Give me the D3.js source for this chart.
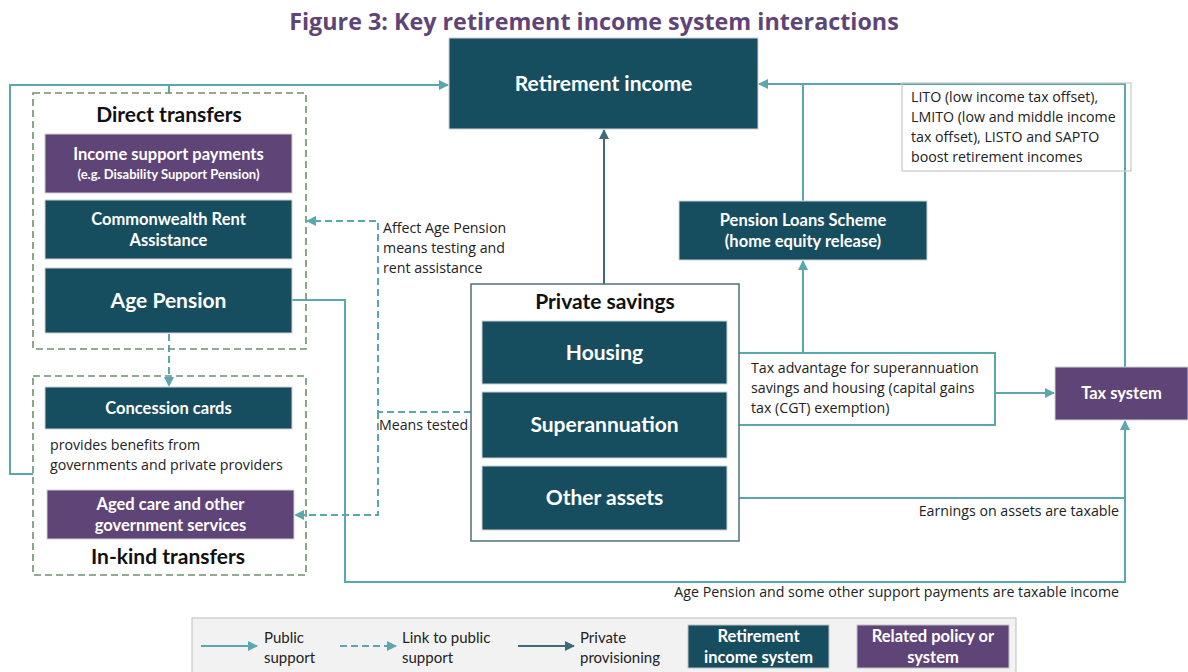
<!DOCTYPE html>
<html><head><meta charset="utf-8">
<script src="https://cdn.jsdelivr.net/npm/d3@7"></script>
<style>
html,body{margin:0;padding:0;background:#fff;}
svg{display:block;font-family:Lato,"Open Sans",sans-serif;}
</style></head>
<body>
<script>
// ---------- DATA (labels) ----------
const title = "Figure 3: Key retirement income system interactions";
const directTransfers = [["Income support payments", "(e.g. Disability Support Pension)"], ["Commonwealth Rent", "Assistance"], ["Age Pension"]];
const inKindTransfers = [["Concession cards"], ["Aged care and other", "government services"]];
const privateSavings = [["Housing"], ["Superannuation"], ["Other assets"]];
const otherNodes = [["Retirement income"], ["Pension Loans Scheme", "(home equity release)"], ["Tax system"]];
const groupTitles = ["Direct transfers", "In-kind transfers", "Private savings"];
const notes = [
  ["LITO (low income tax offset),", "LMITO (low and middle income", "tax offset), LISTO and SAPTO", "boost retirement incomes"],
  ["Affect Age Pension", "means testing and", "rent assistance"],
  ["Means tested"],
  ["Tax advantage for superannuation", "savings and housing (capital gains", "tax (CGT) exemption)"],
  ["Earnings on assets are taxable"],
  ["Age Pension and some other support payments are taxable income"],
  ["provides benefits from", "governments and private providers"]
];
const legendItems = [["Public", "support"], ["Link to public", "support"], ["Private", "provisioning"], ["Retirement", "income system"], ["Related policy or", "system"]];

// ---------- STYLE ----------
const C = {dark:"#174e5f", purple:"#5f4577", pub:"#5aa8ad", priv:"#3d6b76", dash:"#6e916f", text:"#222"};
const BODY = "'Open Sans', sans-serif";

const W = 1188, H = 672;
const svg = d3.select("body").append("svg").attr("width", W).attr("height", H);
const defs = svg.append("defs");
function marker(id, color){
  defs.append("marker").attr("id", id).attr("viewBox", "0 0 10 10").attr("refX", 9).attr("refY", 5)
    .attr("markerWidth", 10).attr("markerHeight", 10).attr("markerUnits", "userSpaceOnUse").attr("orient", "auto")
    .append("path").attr("d", "M0,0 L10,5 L0,10 Z").attr("fill", color);
}
marker("aPub", C.pub); marker("aPriv", C.priv);

const line = d3.line();
function path(pts, color, opts={}){
  const p = svg.append("path").attr("d", line(pts)).attr("fill", "none").attr("stroke", color)
    .attr("stroke-width", opts.w || 2);
  if (opts.dash) p.attr("stroke-dasharray", opts.dash);
  if (opts.arrow) p.attr("marker-end", `url(#${opts.arrow})`);
  return p;
}
function lines(lbls, x, y, opts={}){
  const t = svg.append("text").attr("x", x).attr("y", y).attr("fill", opts.fill || C.text)
    .attr("font-size", opts.size || 14).attr("font-weight", opts.bold ? 700 : 400)
    .attr("text-anchor", opts.anchor || "start");
  if (opts.family) t.attr("font-family", opts.family);
  lbls.forEach((s, i) => {
    t.append("tspan").attr("x", x).attr("dy", i === 0 ? 0 : (opts.lh || 20))
      .attr("font-size", (opts.sizes && opts.sizes[i]) || opts.size || 14).text(s);
  });
  return t;
}
function box(lbls, b, fill, size, opts={}){
  svg.append("rect").attr("x", b.x).attr("y", b.y).attr("width", b.w).attr("height", b.h).attr("fill", fill)
    .attr("stroke", opts.stroke || "#d0d0d0").attr("stroke-width", 1);
  const lh = opts.lh || 21;
  const n = lbls.length;
  const cy = b.y + b.h / 2 - (n - 1) * lh / 2 + size * 0.35;
  lines(lbls, b.x + b.w / 2, cy, {fill:"#fff", size, bold:true, anchor:"middle", lh, sizes:opts.sizes});
}

// ---------- TITLE ----------
svg.append("text").attr("x", 594).attr("y", 30).attr("text-anchor", "middle").attr("font-size", 23.3)
  .attr("font-family", BODY).attr("font-weight", 700).attr("fill", C.purple).text(title);

// ---------- CONNECTORS ----------
// public support
path([[169, 93], [169, 85]], C.pub);
path([[33, 474], [10, 474], [10, 85], [448, 85]], C.pub, {arrow:"aPub"});
path([[292, 300], [345, 300], [345, 582], [1125, 582], [1125, 421]], C.pub, {arrow:"aPub"});
path([[727, 498], [1125, 498]], C.pub);
path([[728, 353], [995, 353], [995, 425], [728, 425]], C.pub);
path([[995, 393], [1054, 393]], C.pub, {arrow:"aPub"});
path([[1125, 367], [1125, 84], [759, 84]], C.pub, {arrow:"aPub"});
path([[803, 201], [803, 84]], C.pub);
path([[803, 353], [803, 261]], C.pub, {arrow:"aPub"});
// private provisioning
path([[604, 284], [604, 130]], C.priv, {arrow:"aPriv"});
// link to public support (dashed)
path([[169, 334], [169, 386]], C.pub, {dash:"7,4", arrow:"aPub"});
path([[471, 412], [378, 412], [378, 221], [307, 221]], C.pub, {dash:"7,4", arrow:"aPub"});
path([[378, 412], [378, 515], [295, 515]], C.pub, {dash:"7,4", arrow:"aPub"});

// ---------- GROUP FRAMES ----------
svg.append("rect").attr("x", 33).attr("y", 93).attr("width", 273).attr("height", 256).attr("fill", "none")
  .attr("stroke", C.dash).attr("stroke-width", 1.6).attr("stroke-dasharray", "7,4");
svg.append("rect").attr("x", 33).attr("y", 376).attr("width", 273).attr("height", 199).attr("fill", "none")
  .attr("stroke", C.dash).attr("stroke-width", 1.6).attr("stroke-dasharray", "7,4");
svg.append("rect").attr("x", 471).attr("y", 284).attr("width", 268).attr("height", 257).attr("fill", "#fff")
  .attr("stroke", "#4f6f78").attr("stroke-width", 1.5);

lines([groupTitles[0]], 169, 122, {size:21, bold:true, anchor:"middle", fill:"#111"});
lines([groupTitles[1]], 168, 564, {size:21, bold:true, anchor:"middle", fill:"#111"});
lines([groupTitles[2]], 605, 309, {size:21, bold:true, anchor:"middle", fill:"#111"});

// ---------- NODES ----------
box(otherNodes[0], {x:449, y:38, w:309, h:91}, C.dark, 21);
box(directTransfers[0], {x:45, y:134, w:247, h:59}, C.purple, 16.5, {lh:19, sizes:[16.5, 13]});
box(directTransfers[1], {x:45, y:200, w:247, h:59}, C.dark, 16.5);
box(directTransfers[2], {x:45, y:268, w:247, h:65}, C.dark, 21);
box(inKindTransfers[0], {x:45, y:387, w:247, h:42}, C.dark, 16.5);
box(inKindTransfers[1], {x:47, y:490, w:247, h:49}, C.purple, 16.5);
box(privateSavings[0], {x:482, y:321, w:245, h:63}, C.dark, 21);
box(privateSavings[1], {x:482, y:392, w:245, h:66}, C.dark, 21);
box(privateSavings[2], {x:482, y:466, w:245, h:64}, C.dark, 21);
box(otherNodes[1], {x:679, y:201, w:248, h:59}, C.dark, 16.5);
box(otherNodes[2], {x:1055, y:367, w:133, h:53}, C.purple, 16.5);

// ---------- NOTES ----------
svg.append("rect").attr("x", 902).attr("y", 83).attr("width", 229).attr("height", 88).attr("fill", "none")
  .attr("stroke", "#c9c9c9").attr("stroke-width", 1.2);
const nb = {size:14.2, family:BODY};
lines(notes[0], 911, 102, nb);
lines(notes[1], 383, 233, nb);
lines(notes[2], 379, 430, nb);
lines(notes[3], 751, 373, nb);
lines(notes[4], 1119, 516, {...nb, anchor:"end"});
lines(notes[5], 1119, 597, {...nb, anchor:"end"});
lines(notes[6], 50, 450, nb);

// ---------- LEGEND ----------
svg.append("rect").attr("x", 192).attr("y", 618).attr("width", 824).attr("height", 60).attr("fill", "#f2f2f2")
  .attr("stroke", "#bdbdbd").attr("stroke-width", 1);
path([[201, 646], [257, 646]], C.pub, {arrow:"aPub"});
lines(legendItems[0], 264, 643, {size:15});
path([[340, 646], [396, 646]], C.pub, {dash:"7,4", arrow:"aPub"});
lines(legendItems[1], 402, 643, {size:15});
path([[518, 646], [574, 646]], C.priv, {arrow:"aPriv"});
lines(legendItems[2], 580, 643, {size:15});
box(legendItems[3], {x:688, y:625, w:141, h:43}, C.dark, 16.5, {lh:21, stroke:"#c0c0c0"});
box(legendItems[4], {x:857, y:625, w:152, h:43}, C.purple, 16.5, {lh:21, stroke:"#c0c0c0"});
</script>
</body></html>
